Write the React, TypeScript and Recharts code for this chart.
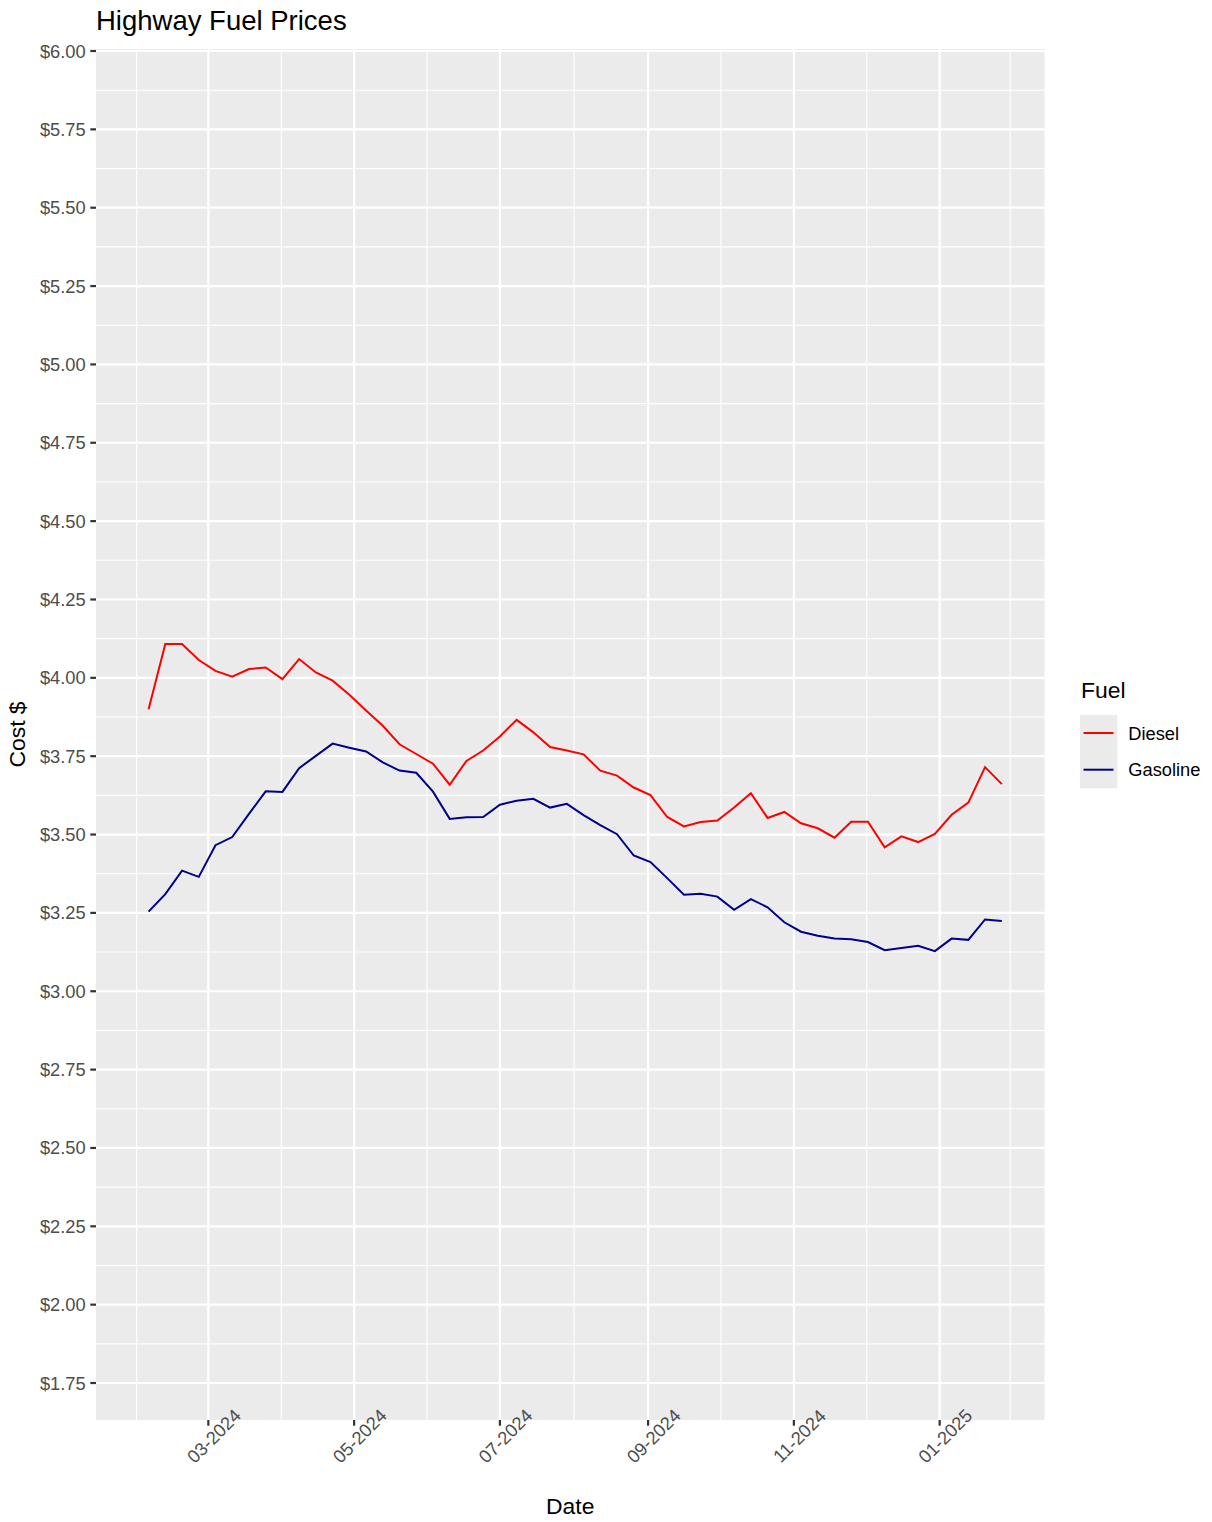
import React from "react";
import { LineChart, Line, XAxis, YAxis, CartesianGrid } from "recharts";

const dates = [
  "2024-02-05", "2024-02-12", "2024-02-19", "2024-02-26",
  "2024-03-04", "2024-03-11", "2024-03-18", "2024-03-25",
  "2024-04-01", "2024-04-08", "2024-04-15", "2024-04-22", "2024-04-29",
  "2024-05-06", "2024-05-13", "2024-05-20", "2024-05-27",
  "2024-06-03", "2024-06-10", "2024-06-17", "2024-06-24",
  "2024-07-01", "2024-07-08", "2024-07-15", "2024-07-22", "2024-07-29",
  "2024-08-05", "2024-08-12", "2024-08-19", "2024-08-26",
  "2024-09-02", "2024-09-09", "2024-09-16", "2024-09-23", "2024-09-30",
  "2024-10-07", "2024-10-14", "2024-10-21", "2024-10-28",
  "2024-11-04", "2024-11-11", "2024-11-18", "2024-11-25",
  "2024-12-02", "2024-12-09", "2024-12-16", "2024-12-23", "2024-12-30",
  "2025-01-06", "2025-01-13", "2025-01-20", "2025-01-27",
];

const diesel = [
  3.900, 4.108, 4.108, 4.057,
  4.022, 4.004, 4.028, 4.033,
  3.996, 4.060, 4.017, 3.991, 3.946,
  3.896, 3.847, 3.788, 3.757,
  3.726, 3.659, 3.735, 3.768,
  3.813, 3.866, 3.826, 3.779, 3.768,
  3.756, 3.704, 3.688, 3.650,
  3.626, 3.556, 3.526, 3.540, 3.545,
  3.586, 3.632, 3.553, 3.572,
  3.536, 3.520, 3.490, 3.541,
  3.541, 3.459, 3.494, 3.476, 3.502,
  3.563, 3.602, 3.715, 3.661,
];

const gasoline = [
  3.254, 3.310, 3.385, 3.365,
  3.466, 3.492, 3.566, 3.638,
  3.636, 3.712, 3.751, 3.790, 3.777,
  3.765, 3.730, 3.704, 3.697,
  3.637, 3.550, 3.555, 3.556,
  3.595, 3.608, 3.614, 3.586, 3.598,
  3.562, 3.530, 3.501, 3.433,
  3.412, 3.361, 3.308, 3.311, 3.302,
  3.260, 3.294, 3.268, 3.220,
  3.190, 3.177, 3.168, 3.166,
  3.157, 3.131, 3.138, 3.145, 3.128,
  3.168, 3.164, 3.229, 3.224,
];

const xTickDates = ["2024-03-01", "2024-05-01", "2024-07-01", "2024-09-01", "2024-11-01", "2025-01-01"];
// break positions just outside the panel, used for minor grid midpoints
const xOuterBreaks = ["2024-01-01", "2025-03-01"];
const yTicks = [1.75, 2.0, 2.25, 2.5, 2.75, 3.0, 3.25, 3.5, 3.75, 4.0, 4.25, 4.5, 4.75, 5.0, 5.25, 5.5, 5.75, 6.0];

const seriesNames = ["Diesel", "Gasoline"];
const seriesColors = ["#FF0000", "#00008B"];

const DAY = 86400000;
const toTs = (s: string) => Date.parse(s);

const data = dates.map((d, i) => ({ t: toTs(d), diesel: diesel[i], gasoline: gasoline[i] }));

const xTicks = xTickDates.map(toTs);
const allXBreaks = [toTs(xOuterBreaks[0]), ...xTicks, toTs(xOuterBreaks[1])];
const xMinor = allXBreaks.slice(1).map((b, i) => (b + allXBreaks[i]) / 2);
const yMinor = yTicks.slice(1).map((b, i) => (b + yTicks[i]) / 2);

const xDomain = [toTs("2024-01-14"), toTs("2025-02-13") + 0.87 * DAY];
const yDomain = [1.632, 6.0064];

const W = 1212;
const H = 1522;
const PL = 96;
const PR = 1044.5;
const PT = 49;
const PB = 1420;

const FONT = "'Liberation Sans', Arial, Helvetica, sans-serif";

const fmtMonth = (ts: number) => {
  const d = new Date(ts);
  const m = d.getUTCMonth() + 1;
  return `${m < 10 ? "0" : ""}${m}-${d.getUTCFullYear()}`;
};

const XTick = (props: any) => {
  const { x, payload } = props;
  const cx = x + 5.5;
  const cy = PB + 16;
  return (
    <text
      x={cx}
      y={cy}
      transform={`rotate(-45, ${cx}, ${cy})`}
      textAnchor="middle"
      dominantBaseline="central"
      fill="#4D4D4D"
      fontSize={18.3}
      fontFamily={FONT}
    >
      {fmtMonth(payload.value)}
    </text>
  );
};

export default function App() {
  return (
    <div style={{ position: "absolute", left: 0, top: 0, width: W, height: H, background: "#FFFFFF", fontFamily: FONT }}>
      <LineChart
        width={W}
        height={H}
        data={data}
        margin={{ top: PT, right: W - PR, bottom: 0, left: 0 }}
      >
        <CartesianGrid
          fill="#EBEBEB"
          stroke="#FFFFFF"
          strokeWidth={1.1}
          horizontalValues={yMinor}
          verticalValues={xMinor}
        />
        <CartesianGrid
          stroke="#FFFFFF"
          strokeWidth={2.2}
          horizontalValues={yTicks}
          verticalValues={xTicks}
        />
        <XAxis
          dataKey="t"
          type="number"
          domain={xDomain}
          ticks={xTicks}
          allowDataOverflow
          height={H - PB}
          axisLine={false}
          tickLine={{ stroke: "#333333", strokeWidth: 2.2 }}
          tickSize={5.7}
          tickMargin={0}
          tick={<XTick />}
          interval={0}
        />
        <YAxis
          type="number"
          domain={yDomain}
          ticks={yTicks}
          allowDataOverflow
          width={PL}
          axisLine={false}
          tickLine={{ stroke: "#333333", strokeWidth: 2.2 }}
          tickSize={5.7}
          tickMargin={4.6}
          interval={0}
          tick={{ fill: "#4D4D4D", fontSize: 18.3, fontFamily: FONT }}
          tickFormatter={(v: number) => `$${v.toFixed(2)}`}
        />
        <Line
          type="linear"
          dataKey="diesel"
          name={seriesNames[0]}
          stroke={seriesColors[0]}
          strokeWidth={2}
          dot={false}
          activeDot={false}
          isAnimationActive={false}
        />
        <Line
          type="linear"
          dataKey="gasoline"
          name={seriesNames[1]}
          stroke={seriesColors[1]}
          strokeWidth={2}
          dot={false}
          activeDot={false}
          isAnimationActive={false}
        />
      </LineChart>
      <svg
        width={W}
        height={H}
        style={{ position: "absolute", left: 0, top: 0, pointerEvents: "none" }}
        fontFamily={FONT}
      >
        <text x={96} y={29.5} fontSize={27.5} fill="#000000">Highway Fuel Prices</text>
        <text x={(PL + PR) / 2} y={1514} fontSize={22.9} fill="#000000" textAnchor="middle">Date</text>
        <text
          x={25}
          y={(PT + PB) / 2}
          fontSize={22.9}
          fill="#000000"
          textAnchor="middle"
          transform={`rotate(-90, 25, ${(PT + PB) / 2})`}
        >
          Cost $
        </text>
        <text x={1081} y={698} fontSize={22.9} fill="#000000">Fuel</text>
        <rect x={1080} y={715} width={37.3} height={73.3} fill="#EBEBEB" />
        {seriesNames.map((n, i) => (
          <g key={n}>
            <line x1={1083.5} x2={1113.5} y1={733 + i * 36.7} y2={733 + i * 36.7} stroke={seriesColors[i]} strokeWidth={2} />
            <text x={1128.3} y={733 + i * 36.7} dominantBaseline="central" fontSize={18.3} fill="#000000">{n}</text>
          </g>
        ))}
      </svg>
    </div>
  );
}
